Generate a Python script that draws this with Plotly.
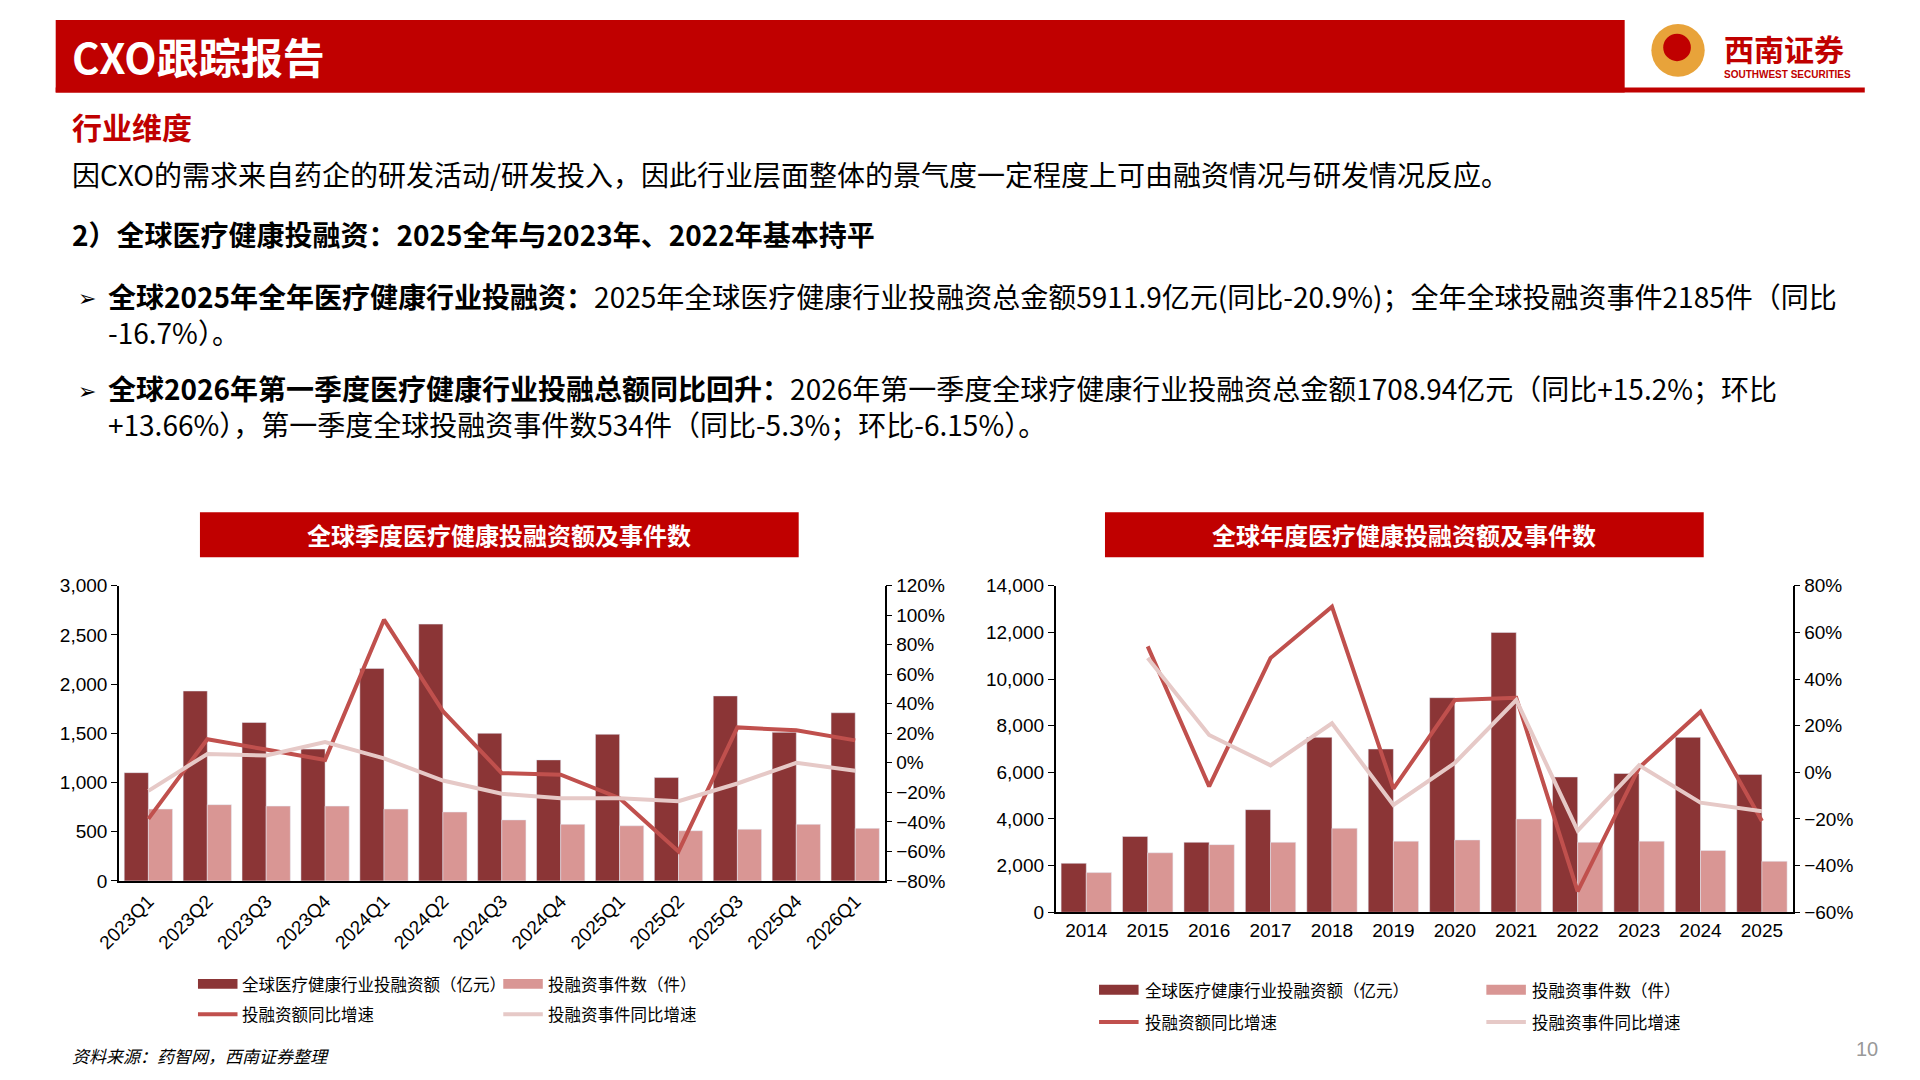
import plotly.graph_objects as go

# ---- data ----
quarters = ["2023Q1","2023Q2","2023Q3","2023Q4","2024Q1","2024Q2","2024Q3","2024Q4","2025Q1","2025Q2","2025Q3","2025Q4","2026Q1"]
q_amount = [1100,1930,1610,1340,2160,2610,1500,1230,1490,1050,1880,1510,1709]
q_events = [730,775,760,760,730,700,620,575,560,510,525,575,534]
q_amount_yoy = [-38,16,9,2,97,35,-7,-8,-24,-60,24,22,15.2]
q_events_yoy = [-19,6,5,14,3,-12,-21,-24,-24,-26,-14,0,-5.3]

years = ["2014","2015","2016","2017","2018","2019","2020","2021","2022","2023","2024","2025"]
y_amount = [2100,3250,3000,4400,7500,7000,9200,12000,5800,5950,7500,5912]
y_events = [1700,2550,2900,3000,3600,3050,3100,4000,3000,3050,2650,2185]
y_amount_yoy = [None,54,-6,49,71,-7,31,32,-51,2,26,-20.9]
y_events_yoy = [None,49,16,3,21,-14,4,31,-25,3,-13,-16.7]

C_DARK = "#8B3536"; C_LIGHT = "#D99694"; C_L1 = "#C0504D"; C_L2 = "#E6C9C7"; RED = "#C00000"
W, H = 1920, 1080
DX = -4
px = lambda x: (x + DX) / W
py = lambda y: 1 - y / H
FONT = "Noto Sans CJK SC"

fig = go.Figure()
fig.add_bar(x=quarters, y=q_amount, marker_color=C_DARK, xaxis="x", yaxis="y", showlegend=False)
fig.add_bar(x=quarters, y=q_events, marker_color=C_LIGHT, xaxis="x", yaxis="y", showlegend=False)
fig.add_scatter(x=quarters, y=q_amount_yoy, mode="lines", line=dict(color=C_L1, width=4), xaxis="x", yaxis="y2", showlegend=False)
fig.add_scatter(x=quarters, y=q_events_yoy, mode="lines", line=dict(color=C_L2, width=4), xaxis="x", yaxis="y2", showlegend=False)

fig.add_bar(x=years, y=y_amount, marker_color=C_DARK, xaxis="x2", yaxis="y3", showlegend=False)
fig.add_bar(x=years, y=y_events, marker_color=C_LIGHT, xaxis="x2", yaxis="y3", showlegend=False)
fig.add_scatter(x=years, y=y_amount_yoy, mode="lines", line=dict(color=C_L1, width=4), xaxis="x2", yaxis="y4", showlegend=False)
fig.add_scatter(x=years, y=y_events_yoy, mode="lines", line=dict(color=C_L2, width=4), xaxis="x2", yaxis="y4", showlegend=False)

ax = dict(showline=True, linecolor="black", linewidth=1.5, ticks="outside", ticklen=6, tickcolor="black",
          showgrid=False, zeroline=False, tickfont=dict(size=19, color="black", family="Liberation Sans Narrow, Liberation Sans"))
fig.update_layout(
    width=W, height=H, margin=dict(l=0, r=0, t=0, b=0), plot_bgcolor="white", paper_bgcolor="white",
    barmode="group", bargap=0.18, bargroupgap=0, font=dict(family=FONT),
    xaxis=dict(ax, domain=[px(93), px(868)], anchor="y", tickangle=-45, ticks=""),
    yaxis=dict(ax, domain=[py(880), py(579)], anchor="x", range=[0, 3000], dtick=500, tickformat=","),
    yaxis2=dict(ax, overlaying="y", side="right", anchor="x", range=[-80, 120], dtick=20, ticksuffix="%"),
    xaxis2=dict(ax, domain=[px(1041), px(1787)], anchor="y3", ticks=""),
    yaxis3=dict(ax, domain=[py(912), py(579)], anchor="x2", range=[0, 14000], dtick=2000, tickformat=","),
    yaxis4=dict(ax, overlaying="y3", side="right", anchor="x2", range=[-60, 80], dtick=20, ticksuffix="%"),
)

shapes = []
ann = []
def text(x, y, s, size, color="black", bold=False, anchor="left", italic=False, family=FONT):
    if bold: s = "<b>" + s + "</b>"
    if italic: s = "<i>" + s + "</i>"
    ann.append(dict(x=px(x), y=py(y), xref="paper", yref="paper", text=s, showarrow=False,
                    xanchor=anchor, yanchor="middle", align="left", font=dict(size=size, color=color, family=family)))

# header
shapes.append(dict(type="rect", xref="paper", yref="paper", x0=px(29), x1=px(1617), y0=py(76), y1=py(2), fillcolor=RED, line_width=0))
shapes.append(dict(type="rect", xref="paper", yref="paper", x0=px(29), x1=px(1860), y0=py(76), y1=py(71), fillcolor=RED, line_width=0))
text(43, 38, "CXO跟踪报告", 42, "white", True)
shapes.append(dict(type="circle", xref="paper", yref="paper", x0=px(1644), x1=px(1698), y0=py(60), y1=py(6), fillcolor="#E8A33A", line_width=0))
shapes.append(dict(type="circle", xref="paper", yref="paper", x0=px(1656), x1=px(1684), y0=py(44), y1=py(16), fillcolor=RED, line_width=0))
text(1716, 31, "西南证券", 30, RED, True)
text(1716, 58, "SOUTHWEST SECURITIES", 10, RED, True, family="Liberation Sans")

text(43, 110, "行业维度", 30, RED, True)
text(43, 159, "因CXO的需求来自药企的研发活动/研发投入，因此行业层面整体的景气度一定程度上可由融资情况与研发情况反应。", 28)
text(43, 220, "2）全球医疗健康投融资：2025全年与2023年、2022年基本持平", 28, bold=True)
text(50, 284, "➢", 22)
text(80, 302, "<b>全球2025年全年医疗健康行业投融资：</b>2025年全球医疗健康行业投融资总金额5911.9亿元(同比-20.9%)；全年全球投融资事件2185件（同比<br>-16.7%）。", 28)
text(50, 378, "➢", 22)
text(80, 396, "<b>全球2026年第一季度医疗健康行业投融总额同比回升：</b>2026年第一季度全球疗健康行业投融资总金额1708.94亿元（同比+15.2%；环比<br>+13.66%），第一季度全球投融资事件数534件（同比-5.3%；环比-6.15%）。", 28)

# chart titles
for x0, x1, t in [(175, 781, "全球季度医疗健康投融资额及事件数"), (1091, 1697, "全球年度医疗健康投融资额及事件数")]:
    shapes.append(dict(type="rect", xref="paper", yref="paper", x0=px(x0), x1=px(x1), y0=py(550), y1=py(504),
                       fillcolor=RED, line_width=0))
    ann.append(dict(x=px((x0 + x1) / 2), y=py(527), xref="paper", yref="paper", text="<b>" + t + "</b>",
                    xanchor="center", yanchor="middle",
                    showarrow=False, font=dict(size=24, color="white", family=FONT)))

# legends
def legend(xs, ys, dx_text):
    items = [(0, 0, "bar", C_DARK, "全球医疗健康行业投融资额（亿元）"), (1, 0, "bar", C_LIGHT, "投融资事件数（件）"),
             (0, 1, "line", C_L1, "投融资额同比增速"), (1, 1, "line", C_L2, "投融资事件同比增速")]
    for c, r, kind, col, lab in items:
        x = xs[c]; y = ys[r]
        if kind == "bar":
            shapes.append(dict(type="rect", xref="paper", yref="paper", x0=px(x), x1=px(x + 40), y0=py(y + 5), y1=py(y - 5), fillcolor=col, line_width=0))
        else:
            shapes.append(dict(type="line", xref="paper", yref="paper", x0=px(x), x1=px(x + 40), y0=py(y), y1=py(y), line=dict(color=col, width=4)))
        text(x + dx_text, y, lab, 16.5)
legend([173, 482], [985, 1016], 43)
legend([1085, 1477], [991, 1024], 44)

text(43, 1058, "资料来源：药智网，西南证券整理", 17, italic=True)
text(1875, 1051, "10", 20, "#999999", anchor="right", family="Liberation Sans")

fig.update_layout(shapes=shapes, annotations=ann)
fig.write_html("out.html")
